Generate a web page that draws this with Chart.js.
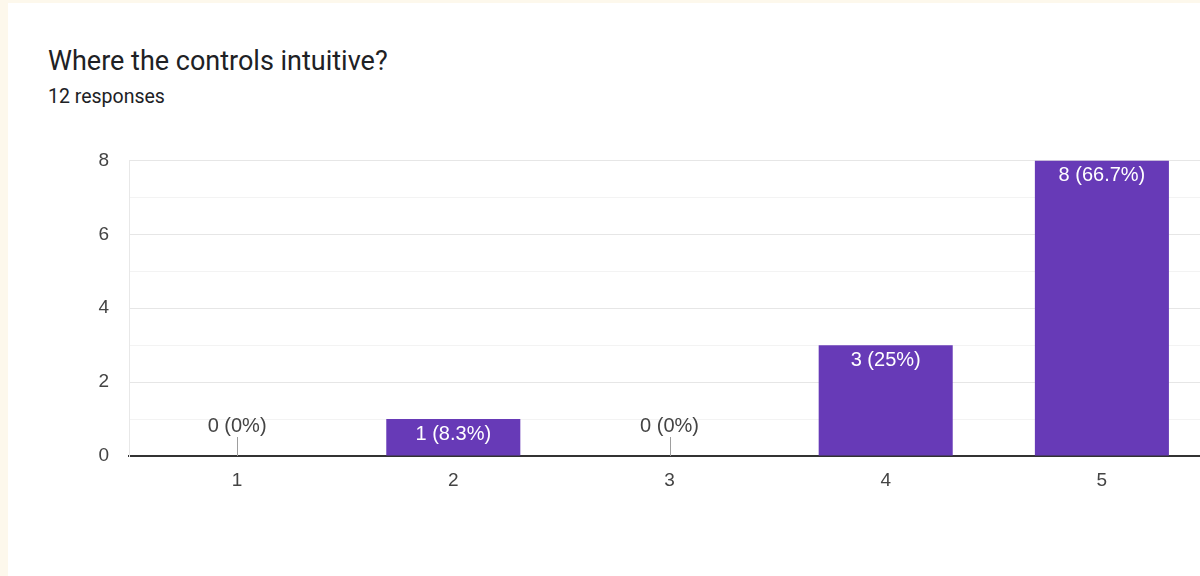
<!DOCTYPE html>
<html>
<head>
<meta charset="utf-8">
<script src="https://cdn.jsdelivr.net/npm/chart.js@4.4.1/dist/chart.umd.min.js"></script>
<style>
  html, body { margin: 0; padding: 0; }
  body {
    width: 1200px; height: 576px; overflow: hidden;
    background: #fdf8ec; position: relative;
  }
  #card {
    position: absolute; left: 8px; top: 3px; width: 1300px; height: 600px;
    background: #ffffff;
  }
  #title {
    position: absolute; left: 40px; top: 42px;
    font-family: Roboto, "Open Sans", sans-serif; font-size: 27px; color: #202124;
    white-space: nowrap;
  }
  #subtitle {
    position: absolute; left: 40px; top: 82px;
    font-family: Roboto, "Open Sans", sans-serif; font-size: 19.5px; color: #202124;
    white-space: nowrap;
  }
  #chart { position: absolute; left: 0; top: 129px; }
</style>
</head>
<body>
<div id="card">
  <div id="title">Where the controls intuitive?</div>
  <div id="subtitle">12 responses</div>
</div>
<canvas id="chart" width="1230" height="380"></canvas>
<script>
// Answers on the 1–5 scale and how many people picked each
const categories = ['1', '2', '3', '4', '5'];
const counts = [0, 1, 0, 3, 8];
const yTicks = [0, 2, 4, 6, 8];

const total = counts.reduce((a, b) => a + b, 0);
const barColor = '#673ab7';
const labelFont = '20px "Liberation Sans", Arial, sans-serif';

function pctLabel(v) {
  const p = Number((v / total * 100).toFixed(1));
  return v + ' (' + p + '%)';
}

// Writes "count (percent)" on each bar; empty answers get a small stem and a label above the baseline
const valueLabels = {
  id: 'valueLabels',
  afterDatasetsDraw(chart) {
    const ctx = chart.ctx;
    const meta = chart.getDatasetMeta(0);
    const zeroY = chart.scales.y.getPixelForValue(0);
    ctx.save();
    ctx.font = labelFont;
    ctx.textAlign = 'center';
    meta.data.forEach((bar, i) => {
      const v = counts[i];
      if (v > 0) {
        ctx.fillStyle = '#ffffff';
        ctx.textBaseline = 'middle';
        ctx.fillText(pctLabel(v), bar.x, bar.y + 15);
      } else {
        ctx.strokeStyle = '#9e9e9e';
        ctx.lineWidth = 1;
        ctx.beginPath();
        ctx.moveTo(Math.round(bar.x) + 0.5, zeroY);
        ctx.lineTo(Math.round(bar.x) + 0.5, zeroY - 19);
        ctx.stroke();
        ctx.fillStyle = '#444444';
        ctx.textBaseline = 'middle';
        ctx.fillText(pctLabel(v), bar.x, zeroY - 30);
      }
    });
    ctx.restore();
  }
};

new Chart(document.getElementById('chart'), {
  type: 'bar',
  data: {
    labels: categories,
    datasets: [{
      data: counts,
      backgroundColor: barColor,
      barPercentage: 0.62,
      categoryPercentage: 1.0
    }]
  },
  options: {
    responsive: false,
    animation: false,
    devicePixelRatio: 1,
    layout: { padding: { top: 11, right: 20, bottom: 0, left: 0 } },
    plugins: { legend: { display: false }, tooltip: { enabled: false } },
    scales: {
      x: {
        grid: { drawOnChartArea: false, drawTicks: false },
        border: { display: true, color: '#333333', width: 2 },
        ticks: {
          color: '#444444', padding: 13,
          font: { family: '"Liberation Sans", Arial, sans-serif', size: 19 }
        },
        afterFit(scale) { scale.height = 53; }
      },
      y: {
        min: 0, max: 8,
        grid: {
          drawTicks: false,
          color: (c) => c.tick.value === 0 ? 'rgba(0,0,0,0)' : (c.tick.value % 2 === 0 ? '#e6e6e6' : '#f3f3f3'),
          lineWidth: 1
        },
        border: { display: true, color: '#e8e8e8', width: 1 },
        afterBuildTicks(scale) {
          scale.ticks = [];
          for (let v = 0; v <= 8; v++) scale.ticks.push({ value: v });
        },
        ticks: {
          color: '#444444', padding: 20,
          font: { family: '"Liberation Sans", Arial, sans-serif', size: 19 },
          callback: (v) => yTicks.includes(v) ? String(v) : ''
        },
        afterFit(scale) { scale.width = 129; }
      }
    }
  },
  plugins: [valueLabels]
});
</script>
</body>
</html>
